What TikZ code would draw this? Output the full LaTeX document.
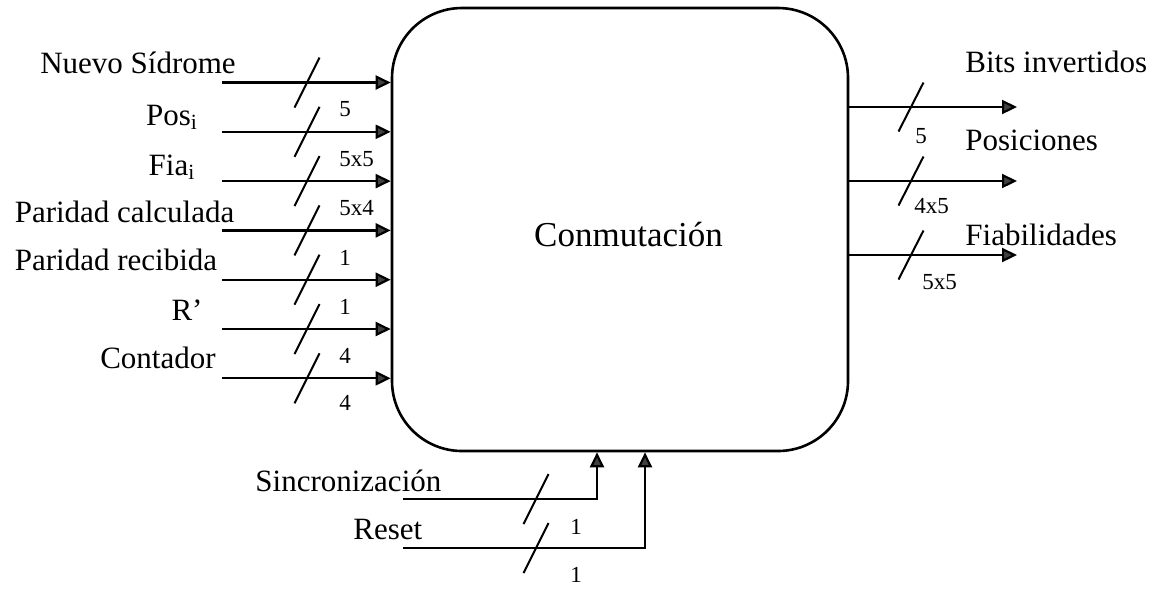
\documentclass[tikz,border=0pt]{standalone}
\usepackage{fontspec}
\setmainfont{Liberation Serif}
\usetikzlibrary{arrows.meta,positioning}
\tikzstyle{block}=[
	rectangle,
	draw,
	line width=1.3pt,
	rounded corners=35pt,
	minimum width=228pt,
	minimum height=221.5pt
]
\tikzstyle{wire}=[
	-{Triangle[length=7.5pt,width=7pt,fill=black!75]},
	line width=1.1pt
]
\tikzstyle{bus}=[line width=1pt]
\tikzstyle{lbl}=[font=\fontsize{15.5}{18}\selectfont, inner sep=0pt]
\tikzstyle{bits}=[font=\fontsize{11.5}{13}\selectfont, inner sep=0pt, anchor=west]

\begin{document}
\begin{tikzpicture}[x=0.5pt,y=-0.5pt]
\useasboundingbox (0,0) rectangle (1160,591);
\node [block] (conm) at (620,229.5) {};
\node [lbl, anchor=base, font=\fontsize{17.5}{20}\selectfont] (conmText) at (628.5,246) {Conmutación};

% entradas
\coordinate (nsIn) at (222,82.5);
\coordinate (posIn) at (222,131.8);
\coordinate (fiaIn) at (222,181.1);
\coordinate (pcIn) at (222,230.4);
\coordinate (prIn) at (222,279.7);
\coordinate (rIn) at (222,329);
\coordinate (cntIn) at (222,378.3);
\node [lbl, anchor=base] (ns) at (138,73) {Nuevo Sídrome};
\node [lbl, anchor=base] (pos) at (172,125) {Pos\textsubscript{i}};
\node [lbl, anchor=base] (fia) at (172,175) {Fia\textsubscript{i}};
\node [lbl, anchor=base] (pc) at (124.5,222) {Paridad calculada};
\node [lbl, anchor=base] (pr) at (116,270) {Paridad recibida};
\node [lbl, anchor=base] (r) at (187,320) {R'};
\node [lbl, anchor=base] (cnt) at (158,368) {Contador};
\draw [wire] (nsIn) -- (nsIn -| conm.west);
\draw [wire] (posIn) -- (posIn -| conm.west);
\draw [wire] (fiaIn) -- (fiaIn -| conm.west);
\draw [wire] (pcIn) -- (pcIn -| conm.west);
\draw [wire] (prIn) -- (prIn -| conm.west);
\draw [wire] (rIn) -- (rIn -| conm.west);
\draw [wire] (cntIn) -- (cntIn -| conm.west);
\draw [bus] (nsIn) ++(72.5,25) -- ++(25,-50);
\draw [bus] (posIn) ++(72.5,25) -- ++(25,-50);
\draw [bus] (fiaIn) ++(72.5,25) -- ++(25,-50);
\draw [bus] (pcIn) ++(72.5,25) -- ++(25,-50);
\draw [bus] (prIn) ++(72.5,25) -- ++(25,-50);
\draw [bus] (rIn) ++(72.5,25) -- ++(25,-50);
\draw [bus] (cntIn) ++(72.5,25) -- ++(25,-50);
\node [bits] (nsBits) at ([shift={(117,27)}]nsIn) {5};
\node [bits] (posBits) at ([shift={(117,27)}]posIn) {5x5};
\node [bits] (fiaBits) at ([shift={(117,27)}]fiaIn) {5x4};
\node [bits] (pcBits) at ([shift={(117,27)}]pcIn) {1};
\node [bits] (prBits) at ([shift={(117,27)}]prIn) {1};
\node [bits] (rBits) at ([shift={(117,27)}]rIn) {4};
\node [bits] (cntBits) at ([shift={(117,25)}]cntIn) {4};

% salidas
\coordinate (biOut) at (1017,107);
\coordinate (posOut) at (1017,181);
\coordinate (fiabOut) at (1017,255);
\node [lbl, anchor=base west] (bi) at (965,72) {Bits invertidos};
\node [lbl, anchor=base west] (posic) at (965,150) {Posiciones};
\node [lbl, anchor=base west] (fiab) at (965,245) {Fiabilidades};
\draw [wire] (biOut -| conm.east) -- (biOut);
\draw [wire] (posOut -| conm.east) -- (posOut);
\draw [wire] (fiabOut -| conm.east) -- (fiabOut);
\draw [bus] (biOut) ++(-118.5,24.5) -- ++(25,-49);
\draw [bus] (posOut) ++(-118.5,24.5) -- ++(25,-49);
\draw [bus] (fiabOut) ++(-118.5,24.5) -- ++(25,-49);
\node [bits] (biBits) at ([shift={(-102,29)}]biOut) {5};
\node [bits] (posOutBits) at ([shift={(-103,25)}]posOut) {4x5};
\node [bits] (fiabBits) at ([shift={(-95,27)}]fiabOut) {5x5};

% control
\coordinate (syncIn) at (403,499);
\coordinate (rstIn) at (403,548);
\coordinate (syncEnd) at ([xshift=-11.5pt]conm.south);
\coordinate (rstEnd) at ([xshift=12.5pt]conm.south);
\node [lbl, anchor=base west] (sync) at (255,491) {Sincronización};
\node [lbl, anchor=base west] (rst) at (353,539) {Reset};
\draw [wire] (syncIn) -| (syncEnd);
\draw [wire] (rstIn) -| (rstEnd);
\draw [bus] (syncIn) ++(120.5,25) -- ++(25,-50);
\draw [bus] (rstIn) ++(120.5,25) -- ++(25,-50);
\node [bits] (syncBits) at ([shift={(167,28)}]syncIn) {1};
\node [bits] (rstBits) at ([shift={(167,27)}]rstIn) {1};
\end{tikzpicture}
\end{document}
